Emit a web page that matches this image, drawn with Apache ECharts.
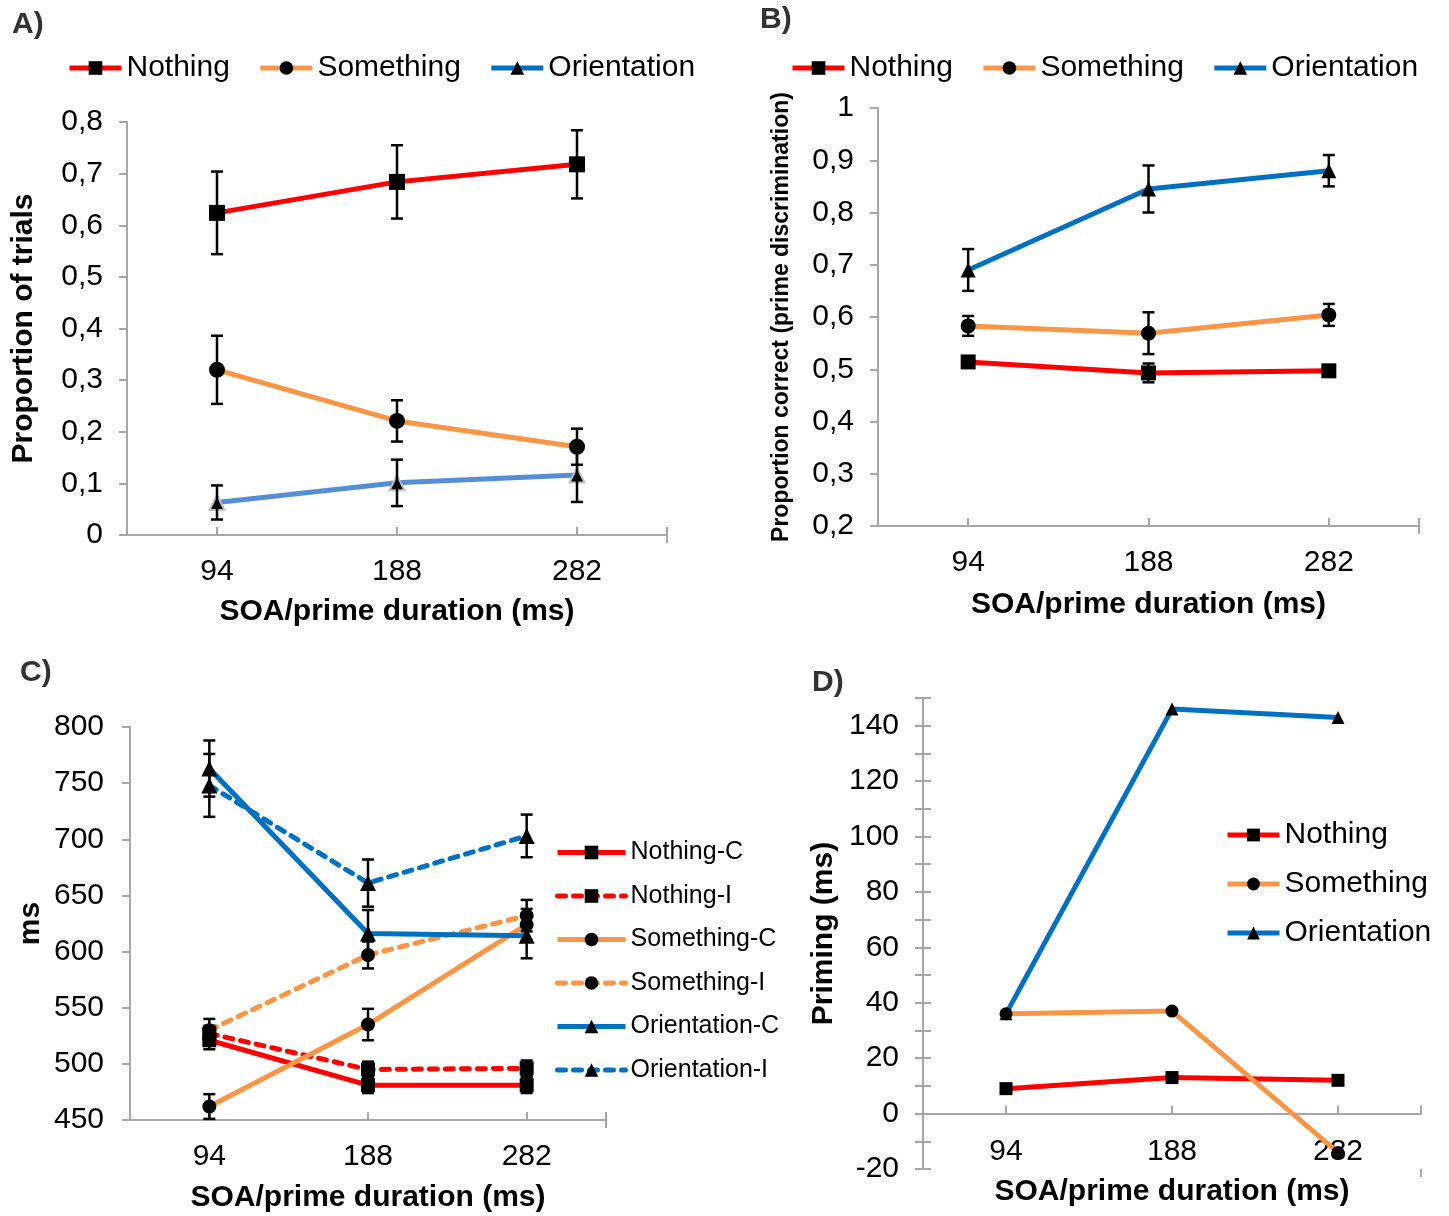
<!DOCTYPE html>
<html><head><meta charset="utf-8">
<script src="https://cdn.jsdelivr.net/npm/echarts@6/dist/echarts.min.js"></script>
<style>html,body{margin:0;padding:0;background:#fff}#c{width:1449px;height:1216px}</style>
</head><body><div id="c"></div>
<script>
// ---------- data ----------
const soa = ['94', '188', '282'];
// Panel A: proportion of trials
const aNothing = [0.624, 0.684, 0.718];
const aNothingErr = [0.080, 0.071, 0.066];
const aSomething = [0.320, 0.221, 0.171];
const aSomethingErr = [0.066, 0.040, 0.035];
const aOrientation = [0.063, 0.101, 0.116];
const aOrientationErr = [0.033, 0.045, 0.052];
// Panel B: proportion correct
const bNothing = [0.514, 0.493, 0.497];
const bNothingErr = [0.006, 0.018, 0.006];
const bSomething = [0.583, 0.569, 0.604];
const bSomethingErr = [0.019, 0.040, 0.021];
const bOrientation = [0.690, 0.845, 0.880];
const bOrientationErr = [0.040, 0.045, 0.030];
// Panel C: RT (ms)
const cNothingC = [521, 481, 481];
const cNothingCErr = [8, 7, 7];
const cNothingI = [527, 495, 496];
const cNothingIErr = [7, 7, 7];
const cSomethingC = [462, 535, 624];
const cSomethingCErr = [11, 14, 14];
const cSomethingI = [530, 597, 632];
const cSomethingIErr = [10, 12, 14];
const cOrientationC = [763, 616, 614];
const cOrientationCErr = [25, 21, 20];
const cOrientationI = [748, 661, 703];
const cOrientationIErr = [28, 21, 19];
// Panel D: priming (ms)
const dNothing = [9, 13, 12];
const dSomething = [36, 37, -14];
const dOrientation = [36, 146, 143];

// ---------- styling ----------
const FONT = '"Liberation Sans", Arial, Helvetica, sans-serif';
const RED = '#FF0000', ORANGE = '#F79646', BLUE = '#0070C0', LIGHTBLUE = '#558ED5', AXIS = '#A6A6A6';
const XNAME = 'SOA/prime duration (ms)';
const LW = 5;

const grids = [
  {left: 127, top: 122, width: 540, height: 413},
  {left: 878, top: 108, width: 541, height: 418},
  {left: 130, top: 727, width: 476, height: 393},
  {left: 923, top: 698, width: 498, height: 471}
];

const xAxes = [], yAxes = [], series = [];
const tickStyle = {color: AXIS, width: 2};

function commaFmt(v) {
  const r = Math.round(v * 10) / 10;
  return String(r).replace('.', ',');
}

function panel(gi, o) {
  const xi = xAxes.length;
  xAxes.push({
    gridIndex: gi, type: 'category', data: soa, boundaryGap: true, position: 'bottom',
    axisLine: {lineStyle: {color: AXIS, width: 2}},
    axisTick: {alignWithLabel: true, length: 8, lineStyle: tickStyle},
    axisLabel: {color: '#000', fontSize: 30, fontFamily: FONT, margin: o.xLabelMargin},
    splitLine: {show: false},
    name: XNAME, nameLocation: 'middle', nameGap: o.xNameGap, nameMoveOverlap: false,
    nameTextStyle: {fontSize: 30, fontWeight: 'bold', color: '#000', fontFamily: FONT}
  });
  xAxes.push({
    gridIndex: gi, type: 'value', min: 0, max: 3, position: 'bottom',
    axisLine: {show: false}, axisLabel: {show: false}, splitLine: {show: false},
    axisTick: {show: true, inside: true, length: 8, customValues: [0.5, 1.5, 2.5, 3], lineStyle: tickStyle}
  });
  xAxes.push({
    gridIndex: gi, type: 'value', min: 0, max: 3, position: 'bottom',
    axisLine: {show: false}, axisLabel: {show: false}, splitLine: {show: false},
    axisTick: {show: true, length: 8, customValues: [3], lineStyle: tickStyle}
  });
  const yi = yAxes.length;
  yAxes.push({
    gridIndex: gi, type: 'value', min: o.min, max: o.max, interval: o.interval, position: 'left',
    axisLine: {show: true, lineStyle: {color: AXIS, width: 2}},
    axisTick: {show: true, length: 8, lineStyle: tickStyle},
    axisLabel: {color: '#000', fontSize: 30, fontFamily: FONT, margin: o.yLabelMargin, formatter: o.fmt},
    splitLine: {show: false},
    name: o.yName, nameLocation: 'middle', nameGap: o.yNameGap, nameMoveOverlap: false,
    nameTextStyle: {fontSize: o.yNameSize, fontWeight: 'bold', color: '#000', fontFamily: FONT}
  });
  if (o.yCross) {
    yAxes.push({
      gridIndex: gi, type: 'value', min: o.min, max: o.max, interval: o.interval, position: 'left',
      axisLine: {show: false}, axisLabel: {show: false}, splitLine: {show: false},
      axisTick: {show: true, inside: true, length: 8, lineStyle: tickStyle}
    });
  }
  return {xi, yi};
}

function errRender(params, api) {
  const x = api.value(0), lo = api.value(1), hi = api.value(2);
  const p1 = api.coord([x, hi]), p2 = api.coord([x, lo]);
  const w = 6;
  const st = {stroke: '#000', lineWidth: 2.5};
  return {type: 'group', children: [
    {type: 'line', shape: {x1: p1[0], y1: p1[1], x2: p2[0], y2: p2[1]}, style: st},
    {type: 'line', shape: {x1: p1[0] - w, y1: p1[1], x2: p1[0] + w, y2: p1[1]}, style: st},
    {type: 'line', shape: {x1: p2[0] - w, y1: p2[1], x2: p2[0] + w, y2: p2[1]}, style: st}
  ]};
}

function addLine(ax, name, data, color, symbol, size, extra) {
  extra = extra || {};
  series.push({
    type: 'line', name: name, xAxisIndex: ax.xi, yAxisIndex: ax.yi, data: data,
    symbol: symbol, symbolSize: size, showAllSymbol: true,
    itemStyle: Object.assign({color: '#000'}, extra.itemStyle || {}),
    lineStyle: {color: color, width: extra.width || LW, type: extra.dash ? [8, 8] : 'solid', cap: extra.dash ? 'round' : 'butt'},
    z: 2, animation: false
  });
}
function addErr(ax, vals, errs) {
  series.push({
    type: 'custom', xAxisIndex: ax.xi, yAxisIndex: ax.yi, renderItem: errRender,
    encode: {x: 0, y: [1, 2]},
    data: vals.map((v, i) => [i, v - errs[i], v + errs[i]]),
    z: 3, silent: true, animation: false
  });
}

// Panel A
const axA = panel(0, {min: 0, max: 0.8, interval: 0.1, fmt: commaFmt, yName: 'Proportion of trials',
  yNameGap: 88, yNameSize: 30, yLabelMargin: 24, xLabelMargin: 22, xNameGap: 62});
addLine(axA, 'Nothing', aNothing, RED, 'rect', 16);
addLine(axA, 'Something', aSomething, ORANGE, 'circle', 16);
addLine(axA, 'Orientation', aOrientation, LIGHTBLUE, 'triangle', 15, {itemStyle: {borderColor: '#BFBFBF', borderWidth: 2}});
addErr(axA, aNothing, aNothingErr);
addErr(axA, aSomething, aSomethingErr);
addErr(axA, aOrientation, aOrientationErr);

// Panel B
const axB = panel(1, {min: 0.2, max: 1, interval: 0.1, fmt: commaFmt, yName: 'Proportion correct (prime discrimination)',
  yNameGap: 85, yNameSize: 23, yLabelMargin: 24, xLabelMargin: 22, xNameGap: 64});
addLine(axB, 'Nothing', bNothing, RED, 'rect', 15);
addLine(axB, 'Something', bSomething, ORANGE, 'circle', 15);
addLine(axB, 'Orientation', bOrientation, BLUE, 'triangle', 15);
addErr(axB, bNothing, bNothingErr);
addErr(axB, bSomething, bSomethingErr);
addErr(axB, bOrientation, bOrientationErr);

// Panel C
const axC = panel(2, {min: 450, max: 800, interval: 50, fmt: v => String(v), yName: 'ms',
  yNameGap: 84, yNameSize: 30, yLabelMargin: 26, xLabelMargin: 22, xNameGap: 63});
addLine(axC, 'Nothing-C', cNothingC, RED, 'rect', 14);
addLine(axC, 'Nothing-I', cNothingI, RED, 'rect', 14, {dash: true});
addLine(axC, 'Something-C', cSomethingC, ORANGE, 'circle', 14);
addLine(axC, 'Something-I', cSomethingI, ORANGE, 'circle', 14, {dash: true});
addLine(axC, 'Orientation-C', cOrientationC, BLUE, 'triangle', 16);
addLine(axC, 'Orientation-I', cOrientationI, BLUE, 'triangle', 16, {dash: true});
addErr(axC, cNothingC, cNothingCErr);
addErr(axC, cNothingI, cNothingIErr);
addErr(axC, cSomethingC, cSomethingCErr);
addErr(axC, cSomethingI, cSomethingIErr);
addErr(axC, cOrientationC, cOrientationCErr);
addErr(axC, cOrientationI, cOrientationIErr);

// Panel D (x axis line sits on zero; labels/name placed just below it)
const axD = panel(3, {min: -20, max: 150, interval: 10, fmt: v => (v % 20 === 0 ? String(v) : ''), yName: 'Priming (ms)',
  yNameGap: 84, yNameSize: 30, yLabelMargin: 24, xLabelMargin: -32, xNameGap: 8, yCross: true});
addLine(axD, 'Nothing', dNothing, RED, 'rect', 13);
addLine(axD, 'Something', dSomething, ORANGE, 'circle', 13);
addLine(axD, 'Orientation', dOrientation, BLUE, 'triangle', 13);

function legItem(name, color, dash) {
  return {name: name, itemStyle: {color: '#000', borderWidth: 0},
    lineStyle: {color: color, width: LW, type: dash ? [8, 8] : 'solid', cap: dash ? 'round' : 'butt'}};
}
const legText = {fontSize: 30, fontFamily: FONT, color: '#000'};
const legMain = [legItem('Nothing', RED), legItem('Something', ORANGE), legItem('Orientation', BLUE)];
const titleStyle = {fontSize: 30, fontWeight: 'bold', color: '#333', fontFamily: FONT};

const option = {
  backgroundColor: '#fff',
  animation: false,
  title: [
    {text: 'A)', left: 12, top: 10, padding: 0, textStyle: titleStyle},
    {text: 'B)', left: 760, top: 5, padding: 0, textStyle: titleStyle},
    {text: 'C)', left: 20, top: 658, padding: 0, textStyle: titleStyle},
    {text: 'D)', left: 812, top: 668, padding: 0, textStyle: titleStyle}
  ],
  grid: grids.map(g => Object.assign({containLabel: false, outerBoundsMode: 'none'}, g)),
  xAxis: xAxes,
  yAxis: yAxes,
  legend: [
    {left: 67, top: 53, padding: 0, itemWidth: 52, itemHeight: 17, itemGap: 28, textStyle: legText, data: legMain, selectedMode: false},
    {left: 790, top: 53, padding: 0, itemWidth: 52, itemHeight: 17, itemGap: 28, textStyle: legText, data: legMain, selectedMode: false},
    {left: 555, top: 840, padding: 0, orient: 'vertical', itemWidth: 68, itemHeight: 17, itemGap: 18.5,
      textStyle: {fontSize: 25, fontFamily: FONT, color: '#000'}, selectedMode: false,
      data: [legItem('Nothing-C', RED), legItem('Nothing-I', RED, true), legItem('Something-C', ORANGE),
        legItem('Something-I', ORANGE, true), legItem('Orientation-C', BLUE), legItem('Orientation-I', BLUE, true)]},
    {left: 1225, top: 820, padding: 0, orient: 'vertical', itemWidth: 52, itemHeight: 16, itemGap: 19, textStyle: legText,
      data: legMain, selectedMode: false}
  ],
  series: series
};
const chart = echarts.init(document.getElementById('c'), null, {renderer: 'canvas'});
chart.setOption(option);
</script></body></html>
